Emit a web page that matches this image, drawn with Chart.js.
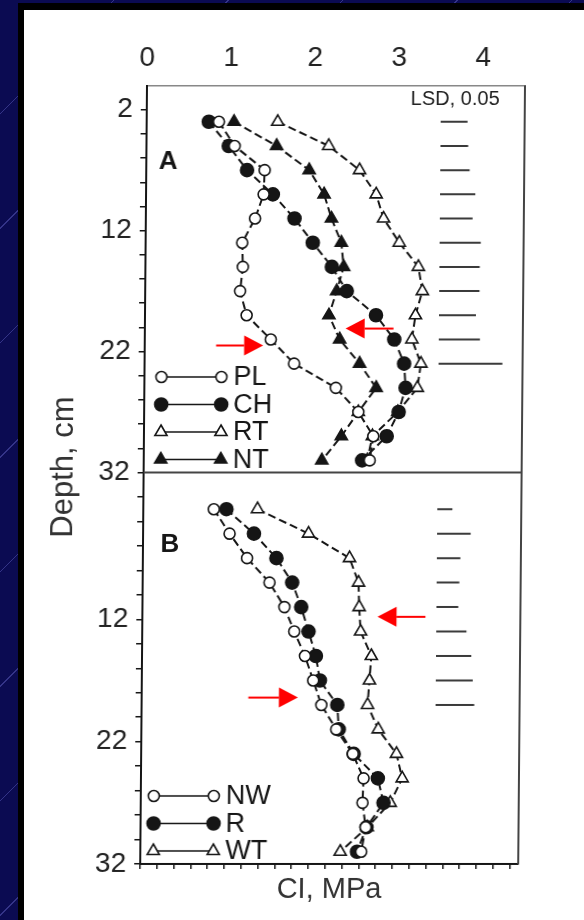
<!DOCTYPE html>
<html>
<head>
<meta charset="utf-8">
<title>Cone index by depth</title>
<script src="https://cdn.jsdelivr.net/npm/chart.js@4.4.1/dist/chart.umd.min.js"></script>
<style>
  html, body { margin: 0; padding: 0; }
  body {
    width: 584px; height: 920px; overflow: hidden; position: relative;
    background: repeating-linear-gradient(135deg, #0b0b52 0px, #0b0b52 80px, #343488 80px, #343488 81px);
  }
  #frame { position: absolute; left: 18px; top: 3px; right: 0; bottom: 0; background: #000; }
  #sheet { position: absolute; left: 24px; top: 10px; right: 0; bottom: 0; background: #fff; }
  #chart {
    position: absolute; left: 0; top: 0;
    /* the scanned figure leans a little to the left towards the bottom */
    transform-origin: 0 85px; transform: skewX(-0.5deg);
  }
</style>
</head>
<body>
<div id="frame"></div>
<div id="sheet"></div>
<canvas id="chart" width="584" height="920"></canvas>
<script>
// sampling depths, cm
const depths = [3, 5, 7, 9, 11, 13, 15, 17, 19, 21, 23, 25, 27, 29, 31];

// panel A: tillage systems, cone index in MPa
const plA = [0.86, 1.05, 1.41, 1.40, 1.30, 1.15, 1.16, 1.13, 1.21, 1.50, 1.78, 2.28, 2.55, 2.73, 2.69];
const chA = [0.74, 0.98, 1.20, 1.51, 1.77, 1.99, 2.22, 2.40, 2.75, 2.97, 3.09, 3.11, 3.03, 2.89, 2.60];
const rtA = [1.56, 2.17, 2.54, 2.74, 2.83, 3.02, 3.25, 3.30, 3.22, 3.18, 3.29, 3.25, 3.02, 2.72, 2.66];
const ntA = [1.04, 1.55, 1.94, 2.12, 2.21, 2.33, 2.36, 2.28, 2.19, 2.32, 2.56, 2.76, 2.55, 2.35, 2.12];

// panel B: traffic, cone index in MPa
const nwB = [0.84, 1.03, 1.24, 1.51, 1.69, 1.81, 1.94, 2.04, 2.14, 2.32, 2.52, 2.65, 2.64, 2.68, 2.63];
const rB = [0.99, 1.32, 1.59, 1.78, 1.89, 1.98, 2.07, 2.12, 2.33, 2.35, 2.53, 2.82, 2.89, 2.69, 2.58];
const wtB = [1.36, 1.97, 2.46, 2.57, 2.58, 2.60, 2.73, 2.71, 2.69, 2.82, 3.04, 3.11, 2.97, 2.70, 2.38];

// LSD (0.05) bar lengths, MPa, from the shallowest depth down
const lsdStart = 3.5;
const lsdA = [0.32, 0.33, 0.35, 0.42, 0.39, 0.49, 0.48, 0.48, 0.44, 0.49, 0.76];
const lsdB = [0.18, 0.40, 0.28, 0.27, 0.26, 0.36, 0.42, 0.44, 0.46];

// axes
const xTicks = [0, 1, 2, 3, 4];
const xMinorTicks = Array.from({ length: 23 }, (_, i) => Math.round(i * 2) / 10);
const depthTicks = [2, 4, 6, 8, 10, 12, 14, 16, 18, 20, 22, 24, 26, 28, 30, 32];
const depthLabelsA = [2, 12, 22, 32];
const depthLabelsB = [12, 22, 32];

// red arrows: panel axis, depth, tail and tip in MPa
const arrows = [
  { axis: 'yA', depth: 21.5, from: 0.85, to: 1.41 },
  { axis: 'yA', depth: 20.1, from: 2.96, to: 2.39 },
  { axis: 'yB', depth: 11.8, from: 3.37, to: 2.80 },
  { axis: 'yB', depth: 18.4, from: 1.27, to: 1.86 },
];

const INK = '#151515';
const FONT = '"Liberation Sans", Arial, sans-serif';

const toPoints = (vals) => vals.map((v, i) => ({ x: v, y: depths[i] }));

function series(label, vals, axis, style, filled) {
  const size = style === 'triangle' ? 7 : (filled ? 6.5 : 5.5);
  return {
    label,
    data: toPoints(vals),
    xAxisID: 'x',
    yAxisID: axis,
    legendRow: true,
    borderColor: INK,
    borderWidth: 2,
    borderDash: [8, 4],
    pointStyle: style,
    pointRadius: size,
    pointBackgroundColor: filled ? INK : '#fff',
    pointBorderColor: INK,
    pointBorderWidth: 1.6,
    tension: 0,
    fill: false,
  };
}

function lsdSeries(lens, axis) {
  const pts = [];
  lens.forEach((len, i) => {
    pts.push({ x: lsdStart, y: depths[i] }, { x: lsdStart + len, y: depths[i] }, { x: lsdStart, y: null });
  });
  return {
    label: 'LSD',
    data: pts,
    xAxisID: 'x',
    yAxisID: axis,
    borderColor: '#3a3a3a',
    borderWidth: 2,
    pointRadius: 0,
    spanGaps: false,
  };
}

// frame lines, panel letters, legends, LSD caption, axis caption and arrows
const annotations = {
  id: 'annotations',
  afterDatasetsDraw(chart) {
    const { ctx, chartArea, scales } = chart;
    const x = scales.x;
    ctx.save();

    ctx.strokeStyle = '#444';
    ctx.lineWidth = 2;
    ctx.beginPath();
    ctx.moveTo(chartArea.right, chartArea.top);
    ctx.lineTo(chartArea.right, chartArea.bottom);
    ctx.moveTo(chartArea.left, scales.yA.bottom);
    ctx.lineTo(chartArea.right, scales.yA.bottom);
    ctx.stroke();

    ctx.fillStyle = INK;
    ctx.textAlign = 'center';
    ctx.textBaseline = 'middle';
    ctx.font = 'bold 26px ' + FONT;
    ctx.fillText('A', x.getPixelForValue(0.26), scales.yA.getPixelForValue(6.3));
    ctx.fillText('B', x.getPixelForValue(0.32), scales.yB.getPixelForValue(5.9));

    ctx.font = '20px ' + FONT;
    ctx.fillStyle = '#222';
    ctx.fillText('LSD, 0.05', x.getPixelForValue(3.67), scales.yA.getPixelForValue(1.15));

    ctx.save();
    ctx.font = '31px ' + FONT;
    ctx.fillStyle = '#333';
    ctx.translate(67, 467);
    ctx.rotate(-Math.PI / 2);
    ctx.fillText('Depth, cm', 0, 0);
    ctx.restore();

    // legends sit in the lower left corner of each panel
    const panels = [
      { axis: 'yA', offset: 17 },
      { axis: 'yB', offset: 13 },
    ];
    panels.forEach(({ axis, offset }) => {
      const rows = chart.data.datasets.filter(d => d.yAxisID === axis && d.legendRow);
      const bottom = scales[axis].bottom;
      rows.forEach((d, i) => {
        const y = bottom - 13 - (rows.length - 1 - i) * 27.5;
        const x0 = chartArea.left + offset;
        const x1 = x0 + 60;
        ctx.strokeStyle = INK;
        ctx.lineWidth = 1.6;
        ctx.setLineDash([]);
        ctx.beginPath();
        ctx.moveTo(x0, y);
        ctx.lineTo(x1, y);
        ctx.stroke();
        [x0, x1].forEach(px => {
          ctx.fillStyle = d.pointBackgroundColor;
          ctx.strokeStyle = INK;
          ctx.lineWidth = 1.6;
          Chart.helpers.drawPoint(ctx, {
            pointStyle: d.pointStyle, radius: d.pointRadius, rotation: 0, borderWidth: 1.6,
          }, px, y);
        });
        ctx.fillStyle = INK;
        ctx.font = '27px ' + FONT;
        ctx.textAlign = 'left';
        ctx.fillText(d.label, x1 + 12, y + 1);
      });
    });

    arrows.forEach(a => {
      const y = scales[a.axis].getPixelForValue(a.depth);
      const x0 = x.getPixelForValue(a.from);
      const x1 = x.getPixelForValue(a.to);
      const dir = Math.sign(x1 - x0);
      const head = 19;
      ctx.strokeStyle = '#f00';
      ctx.fillStyle = '#f00';
      ctx.lineWidth = 2;
      ctx.beginPath();
      ctx.moveTo(x0, y);
      ctx.lineTo(x1 - dir * head, y);
      ctx.stroke();
      ctx.beginPath();
      ctx.moveTo(x1, y);
      ctx.lineTo(x1 - dir * head, y - 10);
      ctx.lineTo(x1 - dir * head, y + 10);
      ctx.closePath();
      ctx.fill();
    });

    ctx.restore();
  },
};

Chart.defaults.font.family = FONT;
Chart.defaults.color = INK;

const depthAxis = (labels, weight, stackWeight) => ({
  type: 'linear',
  position: 'left',
  stack: 'depth',
  stackWeight,
  weight,
  min: 0,
  max: 32,
  reverse: true,
  afterBuildTicks: s => { s.ticks = depthTicks.map(v => ({ value: v })); },
  afterFit: s => { s.width = 62; },
  grid: { drawOnChartArea: false, tickLength: 6, color: INK, lineWidth: 1.5 },
  border: { color: INK, width: 2 },
  ticks: {
    padding: 8,
    autoSkip: false,
    font: { size: 28 },
    color: '#222',
    callback: v => (labels.includes(v) ? v : ''),
  },
});

new Chart(document.getElementById('chart'), {
  type: 'line',
  data: {
    datasets: [
      series('PL', plA, 'yA', 'circle', false),
      series('CH', chA, 'yA', 'circle', true),
      series('RT', rtA, 'yA', 'triangle', false),
      series('NT', ntA, 'yA', 'triangle', true),
      series('NW', nwB, 'yB', 'circle', false),
      series('R', rB, 'yB', 'circle', true),
      series('WT', wtB, 'yB', 'triangle', false),
      lsdSeries(lsdA, 'yA'),
      lsdSeries(lsdB, 'yB'),
    ],
  },
  options: {
    responsive: false,
    animation: false,
    devicePixelRatio: 1,
    layout: { padding: { left: 85, right: 59, top: 40.5, bottom: 6 } },
    plugins: { legend: { display: false }, tooltip: { enabled: false } },
    scales: {
      x: {
        type: 'linear',
        position: 'top',
        min: 0,
        max: 4.5,
        afterBuildTicks: s => { s.ticks = xTicks.map(v => ({ value: v })); },
        afterFit: s => { s.height = 45; },
        grid: { drawOnChartArea: false, drawTicks: false },
        border: { color: '#888', width: 1.5, dash: [3, 4] },
        ticks: { padding: 10, font: { size: 28 }, color: '#222' },
      },
      x2: {
        type: 'linear',
        position: 'bottom',
        min: 0,
        max: 4.5,
        afterBuildTicks: s => { s.ticks = xMinorTicks.map(v => ({ value: v })); },
        afterFit: s => { s.height = 50; },
        grid: { drawOnChartArea: false, tickLength: 5, color: INK, lineWidth: 1.5 },
        border: { color: INK, width: 2 },
        ticks: { autoSkip: false, callback: () => '' },
        title: { display: true, text: 'CI, MPa', font: { size: 29 }, color: '#333', padding: { top: 0, bottom: 7 } },
      },
      yA: depthAxis(depthLabelsA, 1, 387),
      yB: depthAxis(depthLabelsB, 0, 391.5),
    },
  },
  plugins: [annotations],
});
</script>
</body>
</html>
